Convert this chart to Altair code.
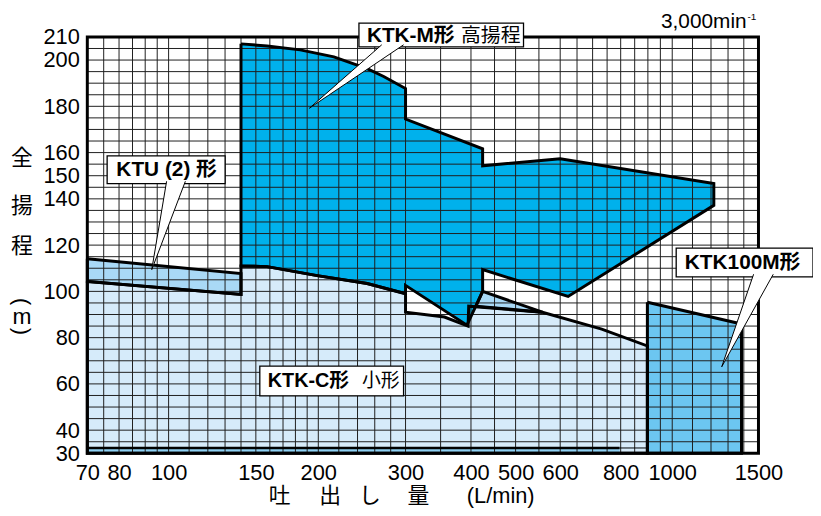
import altair as alt
import pandas as pd

# ---------------- data ----------------
x_ticks = [70, 80, 100, 150, 200, 300, 400, 500, 600, 800, 1000, 1500]
y_ticks = [30, 40, 60, 80, 100, 120, 140, 150, 160, 180, 200, 210]

x_grid = [70, 75, 80, 85, 90, 95, 100, 110, 120, 130, 140, 150, 160, 170, 180, 190,
          200, 220, 240, 260, 280, 300, 350, 400, 450, 500, 550, 600, 650, 700, 750,
          800, 850, 900, 950, 1000, 1100, 1200, 1300, 1400, 1500]
y_grid = list(range(30, 211, 5))

# KTK-C (small)
ktkc_q = [70, 140, 140, 158, 199, 251, 300, 300, 356, 395, 396, 558, 731, 898, 898, 70]
ktkc_h = [104.3, 98.7, 111.0, 110.7, 106.8, 103.4, 99.0, 91.0, 88.9, 85.0, 93.6, 91.0, 83.7, 76.4, 30, 30]
# KTU(2)
ktu_q = [70, 140, 140, 70]
ktu_h = [114.1, 107.7, 98.7, 104.3]
# KTK-M (high head)
ktkm_q = [140, 158, 184, 215, 251, 271, 300, 300, 424, 424, 600, 1216, 1216, 623, 424, 424,
          393, 300, 300, 251, 199, 158, 140]
ktkm_h = [207.0, 206.1, 204.4, 201.4, 196.3, 192.9, 187.7, 174.5, 161.6, 154.3, 157.3, 146.6,
          137.2, 97.8, 109.4, 100.0, 85.4, 102.6, 99.0, 103.4, 106.8, 110.7, 111.0]
# overlap triangle
mid_q = [424, 410, 558]
mid_h = [100.0, 93.6, 91.0]
# KTK100M
k100_q = [898, 1385, 1385, 898]
k100_h = [95.3, 85.9, 30, 30]
# bottom strip
strip_q = [70, 796]
strip_h = [30, 32.3]
strip_line_q = [70, 796, 898]
strip_line_h = [32.3, 32.3, 32.3]

# callout tails (base, tip, base)
mtail_q = [268.6, 192, 297.3]
mtail_h = [206.6, 179.2, 206.6]
utail_q = [99.1, 92.7, 108.1]
utail_h = [147.6, 109.4, 147.6]
ktail_q = [1466, 1262, 1608]
ktail_h = [107.4, 67.4, 107.4]

# ---------------- styling ----------------
FONT = "Liberation Sans, Noto Sans CJK JP"
CJK = "Noto Sans CJK JP"
C_DARK = "#00B1EC"
C_LIGHT = "#D6EBFA"
C_MED = "#A9D9F6"
C_K100 = "#6CC6F1"
C_STRIP = "#8DCFF2"

xs = alt.Scale(type="log", domain=x_ticks,
               range=[0, 32, 82, 170, 233, 321, 387, 432, 477, 538, 590, 677], nice=False)
ys = alt.Scale(domain=[30, 210], nice=False, zero=False)

xaxis = alt.Axis(values=x_ticks, format="d", labelFontSize=22, labelFont=FONT, labelColor="black",
                 labelPadding=9, labelFlush=False, labelOverlap=False, domain=False, ticks=False,
                 grid=False, title=None)
yaxis = alt.Axis(values=y_ticks, format="d", labelFontSize=22, labelFont=FONT, labelColor="black",
                 labelPadding=8, labelFlush=False, labelOverlap=False, domain=False, ticks=False,
                 grid=False, title=None)

X = alt.X("x:Q", scale=xs, axis=xaxis)
Y = alt.Y("y:Q", scale=ys, axis=yaxis)


def frame(q, h, close=False):
    q = list(q); h = list(h)
    if close:
        q = q + [q[0]]; h = h + [h[0]]
    return pd.DataFrame({"x": q, "y": h, "o": list(range(len(q)))})


def fill_poly(q, h, color):
    return alt.Chart(frame(q, h)).mark_line(fill=color, strokeOpacity=0).encode(
        x=X, y=Y, order="o:Q")


def outline(q, h, width=3, close=True):
    return alt.Chart(frame(q, h, close)).mark_line(color="black", strokeWidth=width,
                                                   strokeJoin="miter").encode(x=X, y=Y, order="o:Q")


def tail(q, h):
    return alt.Chart(frame(q, h)).mark_line(fill="white", stroke="black", strokeWidth=1).encode(
        x=X, y=Y, order="o:Q")


def box(x1, y1, x2, y2):
    return alt.Chart(pd.DataFrame({"a": [0]})).mark_rect(fill="white", stroke="black",
                                                         strokeWidth=1.3).encode(
        x=alt.value(x1), x2=alt.value(x2), y=alt.value(y1), y2=alt.value(y2))


def label(text, x, y, size=21, weight="bold", align="center", baseline="middle", angle=0,
          font=FONT):
    return alt.Chart(pd.DataFrame({"a": [0]})).mark_text(
        fontSize=size, fontWeight=weight, align=align, baseline=baseline, angle=angle,
        font=font, color="black").encode(x=alt.value(x), y=alt.value(y), text=alt.value(text))


# ---------------- layers ----------------
fills = [
    fill_poly(ktkc_q, ktkc_h, C_LIGHT),
    alt.Chart(pd.DataFrame({"x": [strip_q[0]], "x2": [strip_q[1]], "y": [strip_h[0]],
                            "y2": [strip_h[1]]})).mark_rect(color=C_STRIP).encode(
        x=X, x2="x2:Q", y=Y, y2="y2:Q"),
    fill_poly(ktu_q, ktu_h, C_MED),
    fill_poly(ktkm_q, ktkm_h, C_DARK),
    fill_poly(mid_q, mid_h, C_MED),
    fill_poly(k100_q, k100_h, C_K100),
]

grid = [
    alt.Chart(pd.DataFrame({"x": x_grid})).mark_rule(color="#1e1e1e", strokeWidth=1).encode(x=X),
    alt.Chart(pd.DataFrame({"y": y_grid})).mark_rule(color="#1e1e1e", strokeWidth=1).encode(y=Y),
]

outlines = [
    outline(ktkc_q, ktkc_h),
    outline(ktu_q, ktu_h),
    outline(ktkm_q, ktkm_h),
    outline(mid_q, mid_h),
    outline(k100_q, k100_h),
    outline(strip_line_q[:2], strip_line_h[:2], width=2.5, close=False),
    outline(strip_line_q[1:], strip_line_h[1:], width=1, close=False),
]

border = alt.Chart(pd.DataFrame({"a": [0]})).mark_rect(fillOpacity=0, stroke="black",
                                                       strokeWidth=3).encode(
    x=alt.value(0), x2=alt.value(677), y=alt.value(0), y2=alt.value(420))

annotations = [
    box(274, -14, 440, 10), tail(mtail_q, mtail_h),
    label("KTK-M形", 282, -1, align="left"),
    label("高揚程", 377, -1, weight="normal", align="left", font=CJK, size=20),

    box(20, 120, 139, 148), tail(utail_q, utail_h),
    label("KTU (2) 形", 80, 134),

    box(594, 213, 732, 242), tail(ktail_q, ktail_h),
    label("KTK100M形", 661, 228),

    box(174, 332, 319, 362),
    label("KTK-C形", 182, 347, align="left", size=20),
    label("小形", 277, 347, weight="normal", align="left", font=CJK, size=19),
]

titles = [
    label("全", -66, 122, size=22, weight="normal", font=CJK),
    label("揚", -66, 171, size=22, weight="normal", font=CJK),
    label("程", -66, 211, size=22, weight="normal", font=CJK),
    label("(", -66, 267, size=22, weight="normal", angle=90),
    label("m", -66, 283, size=23, weight="normal"),
    label(")", -66, 297, size=22, weight="normal", angle=90),
    label("吐", 194, 463, size=22, weight="normal", font=CJK),
    label("出", 245, 463, size=22, weight="normal", font=CJK),
    label("し", 285, 463, size=22, weight="normal", font=CJK),
    label("量", 334, 463, size=22, weight="normal", font=CJK),
    label("(L/min)", 417, 463, size=22, weight="normal"),
    label("3,000min", 665, -9, size=21, weight="normal", align="right", baseline="alphabetic"),
    label("-1", 666, -17, size=10, weight="normal", align="left", baseline="alphabetic"),
]

chart = alt.layer(*fills, *grid, *outlines, border, *annotations, *titles).properties(
    width=677, height=420,
    autosize=alt.AutoSizeParams(type="none"),
    padding={"left": 80, "top": 27, "right": 55, "bottom": 53},
).configure_view(stroke=None)

chart.save("out.html", embed_options={"renderer": "svg", "actions": False})
